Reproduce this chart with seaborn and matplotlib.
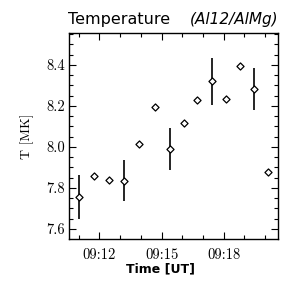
import matplotlib
matplotlib.use("Agg")
import matplotlib.dates as mdates
import matplotlib.pyplot as plt
import matplotlib.ticker as mticker
import numpy as np
import pandas as pd
import seaborn as sns

# observation times (UT) and Al12/AlMg filter-ratio temperatures
times = ["09:11:02", "09:11:45", "09:12:27", "09:13:12", "09:13:55", "09:14:41", "09:15:23",
         "09:16:05", "09:16:43", "09:17:25", "09:18:06", "09:18:47", "09:19:28", "09:20:09"]
temp_mk = [7.755, 7.857, 7.839, 7.836, 8.013, 8.197, 7.990,
           8.117, 8.229, 8.320, 8.234, 8.397, 8.284, 7.877]
temp_err = [0.108, np.nan, np.nan, 0.100, np.nan, np.nan, 0.102,
            np.nan, np.nan, 0.114, np.nan, np.nan, 0.102, np.nan]
x_range = ["09:10:32", "09:20:37"]
y_range = [7.551, 8.556]

df = pd.DataFrame({
    "time": pd.to_datetime(["2011-01-01 " + t for t in times]),
    "T": temp_mk,
    "err": temp_err,
})

sns.set_theme(style="ticks")
plt.rcParams["font.family"] = ["DejaVu Sans"]
plt.rcParams["text.color"] = "black"
plt.rcParams["axes.labelcolor"] = "black"
plt.rcParams["xtick.color"] = "black"
plt.rcParams["ytick.color"] = "black"

fig, ax = plt.subplots(figsize=(3.06, 2.87), dpi=100)
fig.subplots_adjust(left=69 / 306, right=278 / 306, top=1 - 33 / 287, bottom=1 - 239 / 287)

has_err = df.dropna(subset=["err"])
ax.errorbar(has_err["time"], has_err["T"], yerr=has_err["err"], fmt="none",
            ecolor="black", elinewidth=1.2, capsize=0, zorder=2)
sns.scatterplot(data=df, x="time", y="T", marker="D", s=13, facecolor="white",
                edgecolor="black", linewidth=0.9, ax=ax, zorder=3)

ax.set_xlim(pd.to_datetime(["2011-01-01 " + t for t in x_range]))
ax.set_ylim(*y_range)

ax.xaxis.set_major_locator(mdates.MinuteLocator(byminute=[12, 15, 18]))
ax.xaxis.set_minor_locator(mdates.MinuteLocator())
ax.xaxis.set_major_formatter(mdates.DateFormatter("%H:%M"))
ax.yaxis.set_major_locator(mticker.MultipleLocator(0.2))
ax.yaxis.set_minor_locator(mticker.MultipleLocator(0.05))
ax.yaxis.set_major_formatter(mticker.FormatStrFormatter("%.1f"))

ax.tick_params(which="both", direction="in", top=True, right=True, color="black", width=0.8)
ax.tick_params(which="major", length=5, labelsize=10.5)
ax.tick_params(which="minor", length=3)
ax.tick_params(axis="x", which="major", pad=7)
ax.tick_params(axis="y", which="major", pad=3)
for lab in ax.get_xticklabels() + ax.get_yticklabels():
    lab.set_fontfamily("cmr10")
for s in ax.spines.values():
    s.set_color("black")
    s.set_linewidth(1.0)

ax.set_xlabel("Time [UT]", fontsize=9, fontweight="bold")
ax.xaxis.set_label_coords((160 - 69) / (278 - 69), -0.115)
ax.set_ylabel("T [MK]", fontsize=10, fontfamily="cmr10")
ax.yaxis.set_label_coords(-(69 - 34) / (278 - 69), 0.5)

fig.text(68 / 306, 1 - 24 / 287, "Temperature", fontsize=11.5, ha="left", va="baseline")
fig.text(278 / 306, 1 - 24 / 287, "(Al12/AlMg)", fontsize=11, style="italic", ha="right", va="baseline")

fig.savefig("out.png", dpi=100)
